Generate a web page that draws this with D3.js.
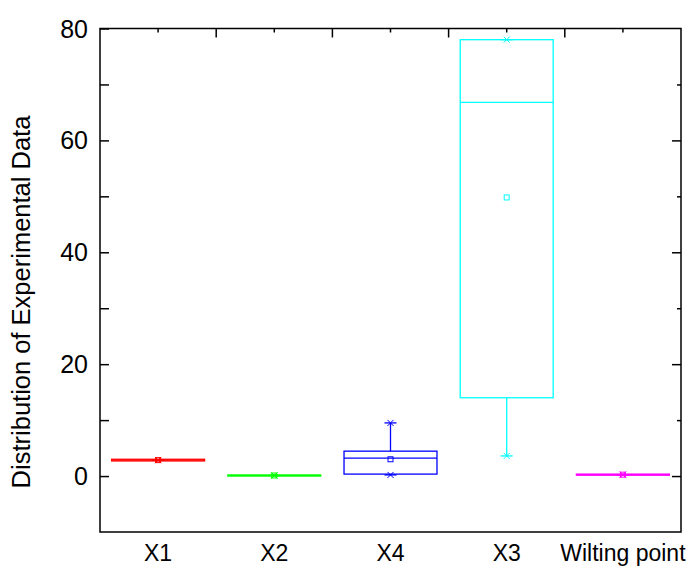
<!doctype html>
<html>
<head>
<script src="https://d3js.org/d3.v7.min.js"></script>
<style>
  body { margin: 0; background: #fff; }
  text { font-family: Arial, "Liberation Sans", sans-serif; fill: #000; }
</style>
</head>
<body>
<svg id="chart" width="700" height="573"></svg>
<script>

// box plot statistics
var categories = ["X1", "X2", "X4", "X3", "Wilting point"];
var colors     = ["#ff0000", "#00ff00", "#0000ff", "#00ffff", "#ff00ff"];
var whiskerLow = [2.85, 0.1, 0.2, 3.6, 0.25];
var q1Vals     = [2.7, 0.02, 0.35, 14.0, 0.15];
var medianVals = [2.85, 0.1, 3.2, 66.8, 0.25];
var q3Vals     = [3.0, 0.18, 4.45, 78.0, 0.35];
var whiskerHigh= [2.85, 0.1, 9.5, 78.0, 0.25];
var meanVals   = [2.85, 0.1, 3.0, 49.8, 0.25];
var minVals    = [2.85, 0.1, 0.2, 3.6, 0.25];
var maxVals    = [2.85, 0.1, 9.5, 78.0, 0.25];

var yTicks = [0, 20, 40, 60, 80];
var yMinor = [-10, 10, 30, 50, 70];

var svg = d3.select("#chart");
var mLeft = 100, mRight = 681, mTop = 28.5, mBottom = 532;

var x = d3.scaleBand().domain(categories).range([mLeft, mRight]).paddingInner(0).paddingOuter(0);
var y = d3.scaleLinear().domain([-10, 80]).range([mBottom, mTop]);
var boxW = x.bandwidth() * 0.8;

// frame
svg.append("rect")
   .attr("x", mLeft).attr("y", mTop)
   .attr("width", mRight - mLeft).attr("height", mBottom - mTop)
   .attr("fill", "none").attr("stroke", "#000").attr("stroke-width", 1.5);

// left axis ticks + labels
var yl = svg.append("g").attr("transform", "translate(" + mLeft + ",0)")
  .call(d3.axisRight(y).tickValues(yTicks.concat(yMinor.filter(function(d){ return d > -10; })))
        .tickSize(9).tickFormat(""));
yl.select(".domain").remove();
yl.selectAll("line").attr("stroke", "#000").attr("stroke-width", 1.5);

svg.selectAll(".ylab").data(yTicks).enter().append("text")
   .attr("class", "ylab")
   .attr("x", 88).attr("y", function(d){ return y(d); })
   .attr("dy", "0.36em")
   .attr("text-anchor", "end")
   .attr("font-size", 25)
   .text(function(d){ return d; });

// right axis ticks
var yr = svg.append("g").attr("transform", "translate(" + mRight + ",0)")
  .call(d3.axisLeft(y).tickValues(yTicks.slice(0, 4)).tickSize(9).tickFormat(""));
yr.select(".domain").remove();
yr.selectAll("line").attr("stroke", "#000").attr("stroke-width", 1.5);
var yr2 = svg.append("g").attr("transform", "translate(" + mRight + ",0)")
  .call(d3.axisLeft(y).tickValues(yMinor.slice(1)).tickSize(4).tickFormat(""));
yr2.select(".domain").remove();
yr2.selectAll("line").attr("stroke", "#000").attr("stroke-width", 1.5);

// top axis ticks: long at band edges, short at centres
var edges = categories.slice(1).map(function(c){ return x(c); });
svg.selectAll(".tmaj").data(edges).enter().append("line")
   .attr("x1", function(d){ return d; }).attr("x2", function(d){ return d; })
   .attr("y1", mTop).attr("y2", mTop + 9)
   .attr("stroke", "#000").attr("stroke-width", 1.5);
svg.selectAll(".tmin").data(categories).enter().append("line")
   .attr("x1", function(d){ return x(d) + x.bandwidth() / 2; })
   .attr("x2", function(d){ return x(d) + x.bandwidth() / 2; })
   .attr("y1", mTop).attr("y2", mTop + 4)
   .attr("stroke", "#000").attr("stroke-width", 1.5);

// category labels
svg.selectAll(".xlab").data(categories).enter().append("text")
   .attr("x", function(d){ return x(d) + x.bandwidth() / 2; })
   .attr("y", 561)
   .attr("text-anchor", "middle")
   .attr("font-size", 23)
   .text(function(d){ return d; });

// y title
svg.append("text")
   .attr("transform", "translate(30," + 302 + ") rotate(-90)")
   .attr("text-anchor", "middle")
   .attr("font-size", 25.5)
   .text("Distribution of Experimental Data");

// boxes
var g = svg.selectAll(".box").data(categories).enter().append("g").attr("class", "box");
function cx(i){ return x(categories[i]) + x.bandwidth() / 2; }

g.each(function(c, i){
  var b = d3.select(this), col = colors[i], xc = cx(i);
  b.append("line").attr("x1", xc).attr("x2", xc)
   .attr("y1", y(q3Vals[i])).attr("y2", y(whiskerHigh[i]))
   .attr("stroke", col).attr("stroke-width", 1.3);
  b.append("line").attr("x1", xc).attr("x2", xc)
   .attr("y1", y(q1Vals[i])).attr("y2", y(whiskerLow[i]))
   .attr("stroke", col).attr("stroke-width", 1.3);
  [whiskerHigh[i], whiskerLow[i]].forEach(function(v){
    b.append("line").attr("x1", xc - 6).attr("x2", xc + 6)
     .attr("y1", y(v)).attr("y2", y(v))
     .attr("stroke", col).attr("stroke-width", 1.3);
  });
  b.append("rect")
   .attr("x", xc - boxW / 2).attr("y", y(q3Vals[i]))
   .attr("width", boxW).attr("height", Math.max(0.5, y(q1Vals[i]) - y(q3Vals[i])))
   .attr("fill", "none").attr("stroke", col).attr("stroke-width", 1.3);
  b.append("line").attr("x1", xc - boxW / 2).attr("x2", xc + boxW / 2)
   .attr("y1", y(medianVals[i])).attr("y2", y(medianVals[i]))
   .attr("stroke", col).attr("stroke-width", 1.3);
  b.append("rect")
   .attr("x", xc - 2.5).attr("y", y(meanVals[i]) - 2.5)
   .attr("width", 5).attr("height", 5)
   .attr("fill", "none").attr("stroke", col).attr("stroke-width", 1);
  [minVals[i], maxVals[i]].forEach(function(v){
    b.append("path")
     .attr("d", "M" + (xc - 3) + "," + (y(v) - 3) + "L" + (xc + 3) + "," + (y(v) + 3) +
                "M" + (xc + 3) + "," + (y(v) - 3) + "L" + (xc - 3) + "," + (y(v) + 3))
     .attr("stroke", col).attr("stroke-width", 1).attr("fill", "none");
  });
});
</script>
</body>
</html>
